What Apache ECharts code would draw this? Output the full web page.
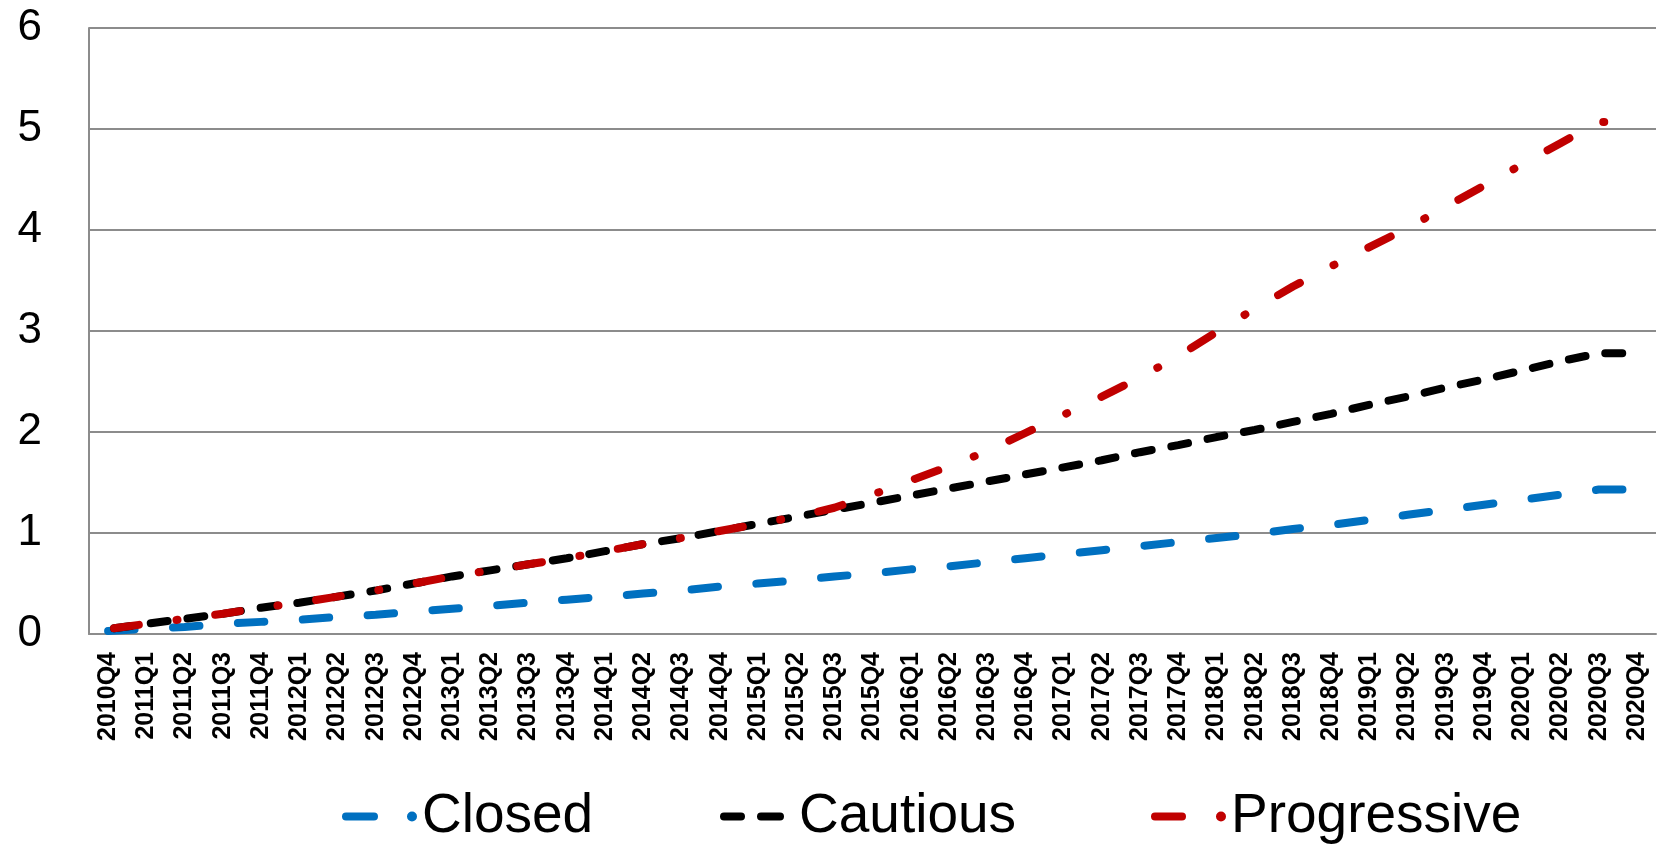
<!DOCTYPE html>
<html>
<head>
<meta charset="utf-8">
<script src="https://cdn.jsdelivr.net/npm/echarts@6/dist/echarts.min.js"></script>
<style>
html,body{margin:0;padding:0;background:#fff;}
#c{width:1662px;height:845px;}
</style>
</head>
<body>
<div id="c"></div>
<script>
var categories = ['2010Q4','2011Q1','2011Q2','2011Q3','2011Q4','2012Q1','2012Q2','2012Q3','2012Q4',
'2013Q1','2013Q2','2013Q3','2013Q4','2014Q1','2014Q2','2014Q3','2014Q4','2015Q1','2015Q2','2015Q3','2015Q4',
'2016Q1','2016Q2','2016Q3','2016Q4','2017Q1','2017Q2','2017Q3','2017Q4','2018Q1','2018Q2','2018Q3','2018Q4',
'2019Q1','2019Q2','2019Q3','2019Q4','2020Q1','2020Q2','2020Q3','2020Q4'];

var closedValues = [0.03,0.05,0.07,0.10,0.12,0.14,0.17,0.19,0.22,0.25,0.28,0.31,0.34,0.37,0.40,0.43,0.47,0.50,0.53,0.57,
0.60,0.64,0.67,0.71,0.75,0.79,0.83,0.87,0.91,0.95,0.99,1.04,1.08,1.13,1.18,1.23,1.28,1.33,1.38,1.43,1.43];

var cautiousValues = [0.05,0.10,0.15,0.20,0.26,0.31,0.37,0.43,0.50,0.57,0.63,0.69,0.75,0.82,0.89,0.95,1.02,1.09,1.16,1.23,
1.30,1.37,1.44,1.51,1.58,1.65,1.72,1.80,1.87,1.95,2.02,2.10,2.18,2.27,2.35,2.44,2.52,2.61,2.70,2.78,2.78];

var progressiveValues = [0.05,0.10,0.15,0.20,0.26,0.31,0.37,0.43,0.50,0.57,0.63,0.69,0.75,0.82,0.89,0.95,1.02,1.09,1.16,1.25,
1.38,1.52,1.66,1.81,1.99,2.17,2.35,2.54,2.75,2.99,3.22,3.44,3.64,3.83,4.02,4.23,4.44,4.65,4.86,5.07,5.07];

var seriesNames = ['Closed','Cautious','Progressive'];
var yTicks = [0,1,2,3,4,5,6];

var legendFont = {fontFamily:"'Liberation Sans', sans-serif", fontSize:55, color:'#000'};
var icons = {
  Closed: 'path://M4,1 L32,1 A4,4 0 0 1 32,9 L4,9 A4,4 0 0 1 4,1 Z M70,0 A5,5 0 1 1 70,10 A5,5 0 1 1 70,0 Z',
  Cautious: 'path://M4,0 L21,0 A4,4 0 0 1 21,8 L4,8 A4,4 0 0 1 4,0 Z M41,0 L60,0 A4,4 0 0 1 60,8 L41,8 A4,4 0 0 1 41,0 Z',
  Progressive: 'path://M4,1 L31,1 A4,4 0 0 1 31,9 L4,9 A4,4 0 0 1 4,1 Z M70,0 A5,5 0 1 1 70,10 A5,5 0 1 1 70,0 Z'
};
function legendFor(name, left, w, h, pad){
  return {
    left:left, top:784, itemWidth:w, itemHeight:h, symbolKeepAspect:false,
    textStyle:Object.assign({padding:[0,0,0,pad]}, legendFont),
    data:[{name:name, icon:icons[name]}]
  };
}

var chart = echarts.init(document.getElementById('c'), null, {renderer:'canvas'});
chart.setOption({
  animation:false,
  backgroundColor:'#ffffff',
  grid:{left:89, top:28, right:6, bottom:211, containLabel:false},
  legend:[
    legendFor('Closed', 337, 75, 10, 0),
    legendFor('Cautious', 715, 64, 8, 10),
    legendFor('Progressive', 1146, 75, 10, 0)
  ],
  xAxis:{
    type:'category', data:categories, boundaryGap:true,
    axisLine:{show:true, lineStyle:{color:'#8c8c8c', width:2}},
    axisTick:{show:false},
    axisLabel:{interval:0, rotate:90, margin:18, fontFamily:"'Liberation Sans', sans-serif", fontWeight:'bold', fontSize:25, color:'#000'},
    splitLine:{show:false}
  },
  yAxis:{
    type:'value', min:yTicks[0], max:yTicks[yTicks.length-1], interval:1,
    axisLine:{show:true, lineStyle:{color:'#8c8c8c', width:2}},
    axisTick:{show:false},
    axisLabel:{margin:47, fontFamily:"'Liberation Sans', sans-serif", fontSize:44, color:'#000'},
    splitLine:{show:true, lineStyle:{color:'#8c8c8c', width:2}}
  },
  series:[
    {name:seriesNames[0], type:'line', data:closedValues, symbol:'none',
     itemStyle:{color:'#0070C0'},
     lineStyle:{color:'#0070C0', width:8, type:[26.5,38.5], cap:'round', join:'round'}},
    {name:seriesNames[1], type:'line', data:cautiousValues, symbol:'none',
     itemStyle:{color:'#000000'},
     lineStyle:{color:'#000000', width:8, type:[17,20], dashOffset:-6, cap:'round', join:'round'}},
    {name:seriesNames[2], type:'line', data:progressiveValues, symbol:'none',
     itemStyle:{color:'#C00000'},
     lineStyle:{color:'#C00000', width:8, type:[25,38,1,38], dashOffset:-6, cap:'round', join:'round'}}
  ]
});
</script>
</body>
</html>
